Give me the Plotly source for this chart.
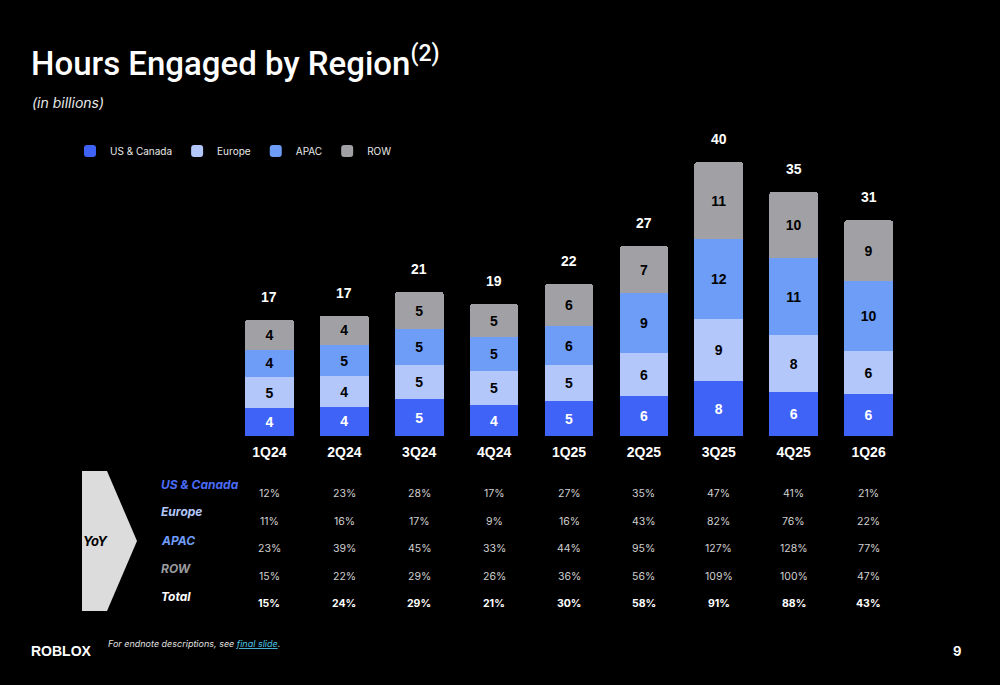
import plotly.graph_objects as go

# ---------------- data ----------------
quarters = ["1Q24", "2Q24", "3Q24", "4Q24", "1Q25", "2Q25", "3Q25", "4Q25", "1Q26"]
us_canada = [4.0, 4.2, 5.3, 4.45, 5.0, 5.75, 7.9, 6.35, 6.0]
europe = [4.5, 4.4, 5.0, 4.9, 5.3, 6.25, 8.95, 8.2, 6.35]
apac = [4.0, 4.5, 5.1, 4.9, 5.55, 8.65, 11.65, 11.15, 10.1]
row = [4.3, 4.3, 5.4, 4.8, 6.05, 6.75, 11.05, 9.55, 8.7]

us_labels = [4, 4, 5, 4, 5, 6, 8, 6, 6]
europe_labels = [5, 4, 5, 5, 5, 6, 9, 8, 6]
apac_labels = [4, 5, 5, 5, 6, 9, 12, 11, 10]
row_labels = [4, 4, 5, 5, 6, 7, 11, 10, 9]
total_labels = [17, 17, 21, 19, 22, 27, 40, 35, 31]

yoy_us = ["12%", "23%", "28%", "17%", "27%", "35%", "47%", "41%", "21%"]
yoy_europe = ["11%", "16%", "17%", "9%", "16%", "43%", "82%", "76%", "22%"]
yoy_apac = ["23%", "39%", "45%", "33%", "44%", "95%", "127%", "128%", "77%"]
yoy_row = ["15%", "22%", "29%", "26%", "36%", "56%", "109%", "100%", "47%"]
yoy_total = ["15%", "24%", "29%", "21%", "30%", "58%", "91%", "88%", "43%"]

series_names = ["US & Canada", "Europe", "APAC", "ROW"]
colors = ["#3f63f6", "#b3c7fb", "#6e9df8", "#a1a1a5"]
label_colors = ["#ffffff", "#000000", "#000000", "#000000"]

W, H = 1000, 685
def px(x):
    return x / W
def py(y):
    return 1 - y / H

fig = go.Figure()
for name, vals, lbls, col, tcol in zip(series_names,
                                        [us_canada, europe, apac, row],
                                        [us_labels, europe_labels, apac_labels, row_labels],
                                        colors, label_colors):
    fig.add_trace(go.Bar(
        name=name, x=quarters, y=vals, text=[str(v) for v in lbls],
        textposition="inside", insidetextanchor="middle",
        textfont=dict(family="Liberation Sans", size=14, color=tcol, weight="bold"),
        marker=dict(color=col, line=dict(width=0)),
        hoverinfo="skip",
    ))

totals = [a + b + c + d for a, b, c, d in zip(us_canada, europe, apac, row)]
annotations = []
for q, t, lbl in zip(quarters, totals, total_labels):
    annotations.append(dict(x=q, y=t, xref="x", yref="y", text=str(lbl), showarrow=False,
                            yanchor="middle", yshift=23,
                            font=dict(family="Liberation Sans", size=14, color="#ffffff", weight="bold")))

# title & subtitle
annotations.append(dict(x=px(29), y=py(62), xref="paper", yref="paper", xanchor="left", yanchor="middle",
                        text="Hours Engaged by Region<sup>(2)</sup>", showarrow=False,
                        font=dict(family="Roboto", size=33, color="#ffffff", weight=500)))
annotations.append(dict(x=px(30), y=py(102), xref="paper", yref="paper", xanchor="left", yanchor="middle",
                        text="<i>(in billions)</i>", showarrow=False,
                        font=dict(family="Inter", size=14, color="#e8e8e8")))

# YoY table
row_names = ["US & Canada", "Europe", "APAC", "ROW", "Total"]
row_colors = ["#4a6cf7", "#b3c7fb", "#6e9df8", "#9a9a9e", "#ffffff"]
row_label_y = [484, 512, 540, 568, 596]
row_value_y = [493, 521, 548, 576, 603]
table = [yoy_us, yoy_europe, yoy_apac, yoy_row, yoy_total]
for i, (nm, c, ly, vy, vals) in enumerate(zip(row_names, row_colors, row_label_y, row_value_y, table)):
    annotations.append(dict(x=px(159), y=py(ly), xref="paper", yref="paper", xanchor="left", yanchor="middle",
                            text="<b><i>" + nm + "</i></b>", showarrow=False,
                            font=dict(family="Inter", size=12, color=c)))
    bold = i == 4
    for q, v in zip(quarters, vals):
        annotations.append(dict(x=q, y=py(vy), xref="x", yref="paper", xanchor="center", yanchor="middle",
                                text=("<b>" + v + "</b>") if bold else v, showarrow=False,
                                font=dict(family="Inter", size=10.5,
                                          color="#ffffff" if bold else "#d0d0d0")))

annotations.append(dict(x=px(96), y=py(541), xref="paper", yref="paper", xanchor="center", yanchor="middle",
                        text="<b><i>YoY</i></b>", showarrow=False,
                        font=dict(family="Inter", size=13, color="#000000")))

# footer
annotations.append(dict(x=px(29), y=py(651), xref="paper", yref="paper", xanchor="left", yanchor="middle",
                        text="<b>ROBLOX</b>", showarrow=False,
                        font=dict(family="Liberation Sans", size=14, color="#ffffff")))
annotations.append(dict(x=px(106), y=py(643), xref="paper", yref="paper", xanchor="left", yanchor="middle",
                        text="<i>For endnote descriptions, see <span style='color:#4ec6e6'><u>final slide</u></span>.</i>",
                        showarrow=False, font=dict(family="Inter", size=9, color="#e0e0e0")))
annotations.append(dict(x=px(957), y=py(651), xref="paper", yref="paper", xanchor="center", yanchor="middle",
                        text="<b>9</b>", showarrow=False,
                        font=dict(family="Inter", size=13, color="#ffffff")))

chevron = "M {a},{b} L {c},{b} L {d},{e} L {c},{f} L {a},{f} Z".format(
    a=px(82), b=py(471), c=px(107), d=px(137), e=py(541), f=py(611))
shapes = [dict(type="path", xref="paper", yref="paper", path=chevron,
               fillcolor="#dcdcdc", line=dict(width=0), layer="below")]

plot_left, plot_right, plot_top, plot_bottom = 232, 906, 124, 436
units_per_px = 1 / 6.92

fig.update_layout(
    width=W, height=H,
    margin=dict(l=0, r=0, t=0, b=0),
    paper_bgcolor="#000000", plot_bgcolor="#000000",
    barmode="stack", bargap=0.35, barcornerradius=2,
    showlegend=True,
    legend=dict(orientation="h", x=px(70), y=py(151), xanchor="left", yanchor="middle",
                traceorder="normal", font=dict(family="Inter", size=10, color="#e8e8e8"),
                bgcolor="rgba(0,0,0,0)", itemwidth=30),
    xaxis=dict(domain=[px(plot_left), px(plot_right)], type="category",
               showgrid=False, zeroline=False, showline=False, ticks="",
               ticklabelstandoff=6,
               tickfont=dict(family="Liberation Sans", size=14, color="#ffffff", weight="bold")),
    yaxis=dict(domain=[py(plot_bottom), py(plot_top)],
               range=[0, (plot_bottom - plot_top) * units_per_px],
               visible=False, showgrid=False, zeroline=False),
    annotations=annotations,
    shapes=shapes,
)

fig.write_html("out.html")
